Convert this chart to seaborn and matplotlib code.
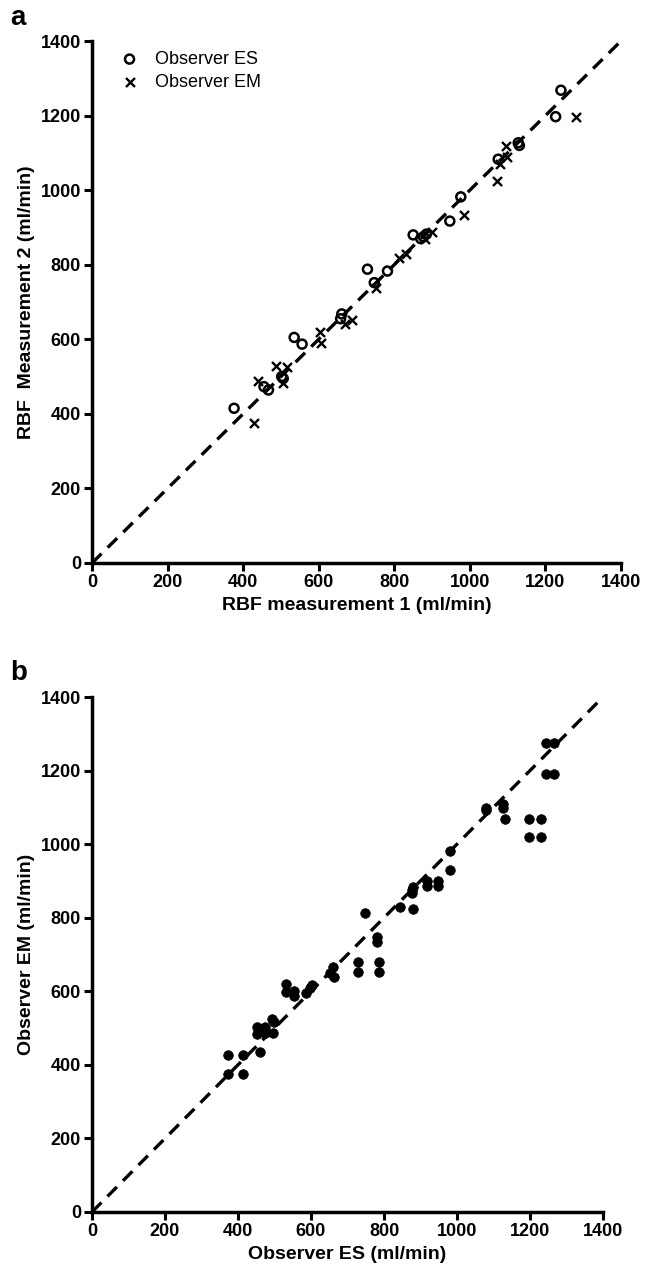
import matplotlib
matplotlib.use("Agg")
import matplotlib.pyplot as plt
import seaborn as sns
import pandas as pd

# Panel a: RBF measurement 1 vs measurement 2 (ml/min)
es_m1 = [376, 455, 467, 502, 506, 535, 556, 661, 658, 729, 747, 782, 850, 877, 870, 885,
         947, 976, 1075, 1128, 1131, 1227, 1241]
es_m2 = [415, 473, 464, 500, 495, 605, 587, 668, 655, 788, 752, 783, 880, 875, 870, 882,
         917, 982, 1083, 1127, 1120, 1197, 1268]
em_m1 = [429, 440, 486, 506, 515, 603, 606, 670, 689, 751, 812, 831, 880, 899, 984,
         1071, 1080, 1097, 1095, 1280]
em_m2 = [376, 489, 529, 484, 525, 619, 591, 641, 653, 737, 817, 830, 870, 888, 933,
         1025, 1070, 1090, 1118, 1197]

# Panel b: Observer ES vs Observer EM (ml/min)
obs_es = [373, 373, 413, 413, 460, 453, 474, 451, 474, 492, 499, 497, 532, 532, 553, 553,
          586, 597, 602, 661, 663, 652, 730, 730, 787, 787, 748, 780, 780, 844, 879, 876,
          880, 876, 917, 917, 949, 949, 981, 981, 1079, 1079, 1125, 1125, 1132, 1197, 1229,
          1197, 1229, 1243, 1266, 1243, 1266]
obs_em = [428, 375, 375, 427, 436, 502, 502, 484, 486, 526, 517, 486, 620, 599, 601, 587,
          594, 608, 617, 665, 638, 650, 680, 653, 680, 653, 812, 748, 733, 830, 825, 875,
          884, 868, 887, 900, 900, 886, 982, 929, 1097, 1092, 1110, 1097, 1067, 1067, 1067,
          1020, 1020, 1275, 1275, 1192, 1192]

identity = [0, 1400]
ticks = [0, 200, 400, 600, 800, 1000, 1200, 1400]

sns.set_style("ticks")
plt.rcParams['font.family'] = ['Liberation Sans', 'DejaVu Sans']
plt.rcParams['text.color'] = 'black'
plt.rcParams['axes.labelcolor'] = 'black'
plt.rcParams['xtick.color'] = 'black'
plt.rcParams['ytick.color'] = 'black'

fig = plt.figure(figsize=(6.46, 12.74), dpi=100)
ax_a = fig.add_axes([92/646, 1 - 563/1274, 529/646, 522/1274])
ax_b = fig.add_axes([92/646, 1 - 1212/1274, 511/646, 515/1274])

line_df = pd.DataFrame({"x": identity, "y": identity})

for ax in (ax_a, ax_b):
    sns.lineplot(data=line_df, x="x", y="y", ax=ax, color="black", linewidth=2.4,
                 dashes=False, linestyle=(0, (4, 2.6)), zorder=1)

sns.scatterplot(x=es_m1, y=es_m2, ax=ax_a, marker="o", s=42, facecolors="none",
                edgecolor="black", linewidth=1.8, label="Observer ES", zorder=3, clip_on=False)
sns.scatterplot(x=em_m1, y=em_m2, ax=ax_a, marker="x", s=42, color="black",
                linewidth=1.7, label="Observer EM", zorder=3, clip_on=False)

sns.scatterplot(x=obs_es, y=obs_em, ax=ax_b, marker="o", s=48, color="black",
                edgecolor="black", linewidth=0.5, zorder=3, clip_on=False)

for ax in (ax_a, ax_b):
    ax.set_xlim(0, 1400)
    ax.set_ylim(0, 1400)
    ax.set_xticks(ticks)
    ax.set_yticks(ticks)
    sns.despine(ax=ax)
    for s in ("left", "bottom"):
        ax.spines[s].set_linewidth(2.5)
        ax.spines[s].set_color("black")
    ax.tick_params(axis="both", length=6, width=2.2, colors="black", labelsize=13,
                   pad=2, direction="out")
    for lab in ax.get_xticklabels() + ax.get_yticklabels():
        lab.set_fontweight("bold")
        lab.set_color("black")

ax_a.set_xlabel("RBF measurement 1 (ml/min)", fontsize=14, fontweight="bold", labelpad=4,
                color="black")
ax_a.set_ylabel("RBF  Measurement 2 (ml/min)", fontsize=14, fontweight="bold", labelpad=4,
                color="black")
ax_b.set_xlabel("Observer ES (ml/min)", fontsize=14, fontweight="bold", labelpad=4,
                color="black")
ax_b.set_ylabel("Observer EM (ml/min)", fontsize=14, fontweight="bold", labelpad=4,
                color="black")

leg = ax_a.legend(loc="upper left", frameon=False, fontsize=13, handletextpad=0.6,
                  borderaxespad=0.0, bbox_to_anchor=(0.03, 0.995), labelspacing=0.35,
                  handlelength=1.6)
for t in leg.get_texts():
    t.set_color("black")

fig.text(10/646, 1 - 18/1274, "a", fontsize=20, fontweight="bold", va="center", ha="left",
         color="black")
fig.text(10/646, 1 - 673/1274, "b", fontsize=20, fontweight="bold", va="center", ha="left",
         color="black")

fig.savefig("out.png", dpi=100)
